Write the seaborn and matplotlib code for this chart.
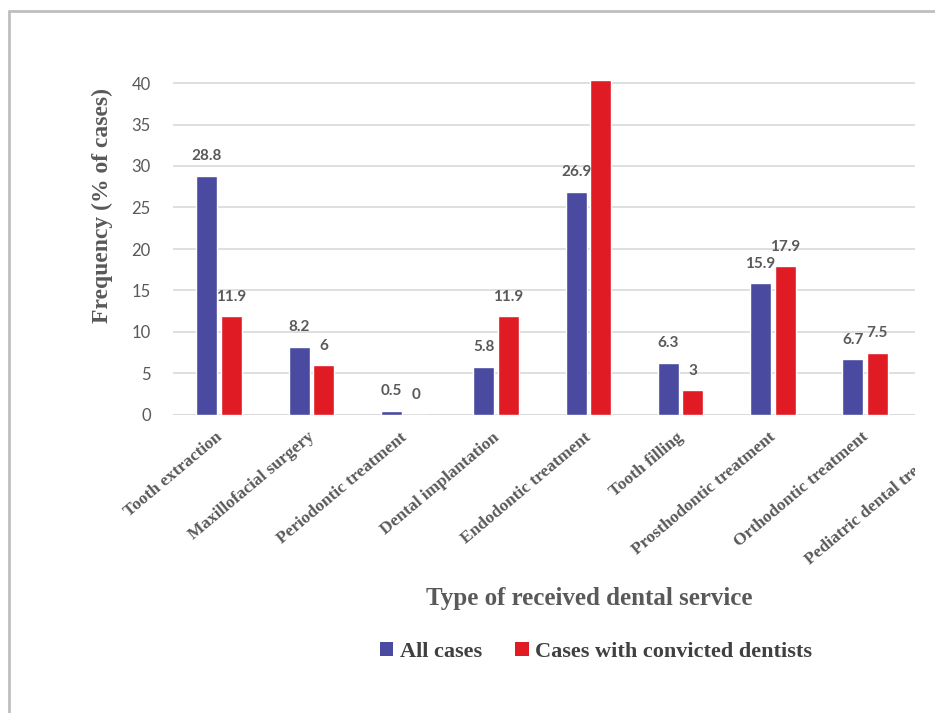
import matplotlib
matplotlib.use("Agg")
import matplotlib.pyplot as plt
import matplotlib.transforms as mtransforms
import seaborn as sns
import pandas as pd
from matplotlib.transforms import Bbox, TransformedBbox
from matplotlib.patches import Patch
from matplotlib.lines import Line2D

# ---- data ----
categories = ["Tooth extraction", "Maxillofacial surgery", "Periodontic treatment",
              "Dental implantation", "Endodontic treatment", "Tooth filling",
              "Prosthodontic treatment", "Orthodontic treatment", "Pediatric dental treatment"]
shown_categories = categories[:8]
all_cases = [28.8, 8.2, 0.5, 5.8, 26.9, 6.3, 15.9, 6.7]
convicted = [11.9, 6.0, 0.0, 11.9, 40.4, 3.0, 17.9, 7.5]
all_labels = ["28.8", "8.2", "0.5", "5.8", "26.9", "6.3", "15.9", "6.7"]
conv_labels = ["11.9", "6", "0", "11.9", None, "3", "17.9", "7.5"]
series_names = ["All cases", "Cases with convicted dentists"]
yticks = [0, 5, 10, 15, 20, 25, 30, 35, 40]

df = pd.DataFrame({
    "cat": shown_categories * 2,
    "val": all_cases + convicted,
    "series": [series_names[0]] * 8 + [series_names[1]] * 8,
})

BLUE = "#4A4BA0"
RED = "#E01B24"
GRAY = "#595959"

sns.set_theme(style="white")
plt.rcParams["font.family"] = ["Liberation Serif", "DejaVu Sans"]

W, H = 935, 713
fig = plt.figure(figsize=(W / 100, H / 100), dpi=100)
ax_left, ax_right = 173, 915
y0_px, y40_px = 415, 83
ppu = (y0_px - y40_px) / 40.0
ytop = 40.8
ax_top_px = y0_px - ytop * ppu
ax = fig.add_axes([ax_left / W, 1 - y0_px / H, (ax_right - ax_left) / W, (y0_px - ax_top_px) / H])

sns.barplot(data=df, x="cat", y="val", hue="series", order=categories,
            hue_order=series_names, palette=[BLUE, RED], width=0.53, gap=0.14,
            ax=ax, legend=False, saturation=1, errorbar=None)

ax.set_ylim(0, ytop)
ax.set_xlim(-0.5, (ax_right - 219) / 92.3)
ax.set_yticks(yticks)
ax.set_yticklabels([str(t) for t in yticks], family="Lato", fontsize=12, color=GRAY)
ax.tick_params(axis="y", length=0, pad=16)
ax.tick_params(axis="x", length=0)
ax.grid(axis="y", color="#D9D9D9", linewidth=1.2)
ax.set_axisbelow(True)
for s in ax.spines.values():
    s.set_visible(False)
ax.axhline(0, color="#D9D9D9", linewidth=1.2, zorder=0.5)
ax.set_xlabel("")
ax.set_ylabel("")

# value labels
for cont, labs in zip(ax.containers, [all_labels, conv_labels]):
    for bar, lab in zip(cont.patches, labs):
        if lab is None:
            continue
        ax.annotate(lab, (bar.get_x() + bar.get_width() / 2, bar.get_height()),
                    xytext=(0, 9), textcoords="offset points", ha="center", va="bottom",
                    family="Lato", fontweight="bold", fontsize=11, color=GRAY)

# x category labels (rotated)
ax.set_xticks([])
clipbox = TransformedBbox(Bbox([[0, 0], [ax_right / W, 1]]), fig.transFigure)
trans = mtransforms.blended_transform_factory(ax.transData, ax.transAxes)
for i, c in enumerate(categories):
    t = ax.text(i + 0.01, -0.06, c, transform=trans, rotation=40, rotation_mode="anchor",
                ha="right", va="center", fontsize=12.5, fontweight="bold", color=GRAY,
                clip_on=False)
    if i == len(categories) - 1:
        t.set_clip_on(True)
        t.set_clip_box(clipbox)

# axis titles
fig.text(102 / W, 1 - 206 / H, "Frequency (% of cases)", rotation=90, ha="center", va="center",
         fontsize=17, fontweight="bold", color=GRAY)
fig.text(589 / W, 1 - 598 / H, "Type of received dental service", ha="center", va="center",
         fontsize=18, fontweight="bold", color=GRAY)

# legend
handles = [Patch(facecolor=BLUE, edgecolor="none"), Patch(facecolor=RED, edgecolor="none")]
leg = fig.legend(handles, series_names, loc="center", bbox_to_anchor=(596 / W, 1 - 652 / H),
                 ncol=2, frameon=False, handlelength=0.6, handleheight=0.6, handletextpad=0.3,
                 columnspacing=1.5, prop={"family": "Liberation Serif", "weight": "bold", "size": 16})
for txt in leg.get_texts():
    txt.set_color("#404040")

# outer gray frame (top and left visible)
fig.add_artist(Line2D([9 / W, 9 / W], [0, 1 - 11 / H], transform=fig.transFigure,
                      color="#BFBFBF", linewidth=2))
fig.add_artist(Line2D([9 / W, 1], [1 - 11 / H, 1 - 11 / H], transform=fig.transFigure,
                      color="#BFBFBF", linewidth=2))

fig.savefig("out.png", dpi=100, facecolor="white")
